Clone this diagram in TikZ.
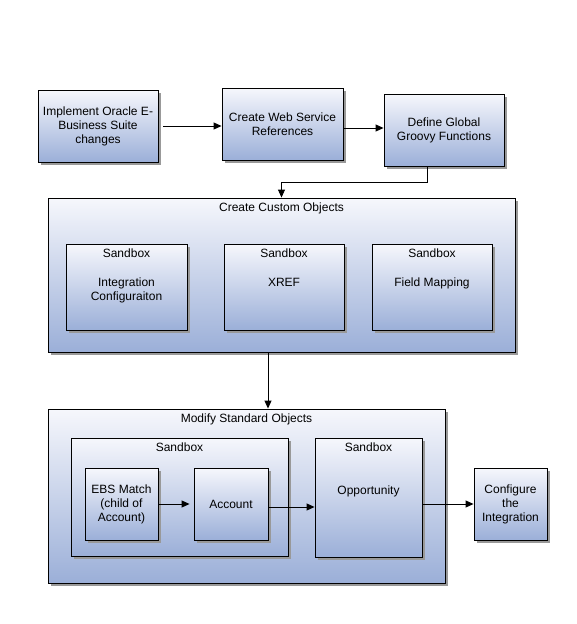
\documentclass[tikz,border=0pt]{standalone}
\usepackage{fontspec}
\setmainfont{Liberation Sans}
\usetikzlibrary{positioning}
\usetikzlibrary{shadows}
\usetikzlibrary{arrows.meta}

\definecolor{boxtop}{RGB}{246,247,252}
\definecolor{boxbot}{RGB}{155,175,216}

\tikzset{
  box/.style={draw=black, line width=0.9pt, top color=boxtop, bottom color=boxbot,
    align=center, inner sep=2pt,
    drop shadow={shadow xshift=2.5pt, shadow yshift=-2.5pt, fill=black!40, opacity=1}},
  title/.style={anchor=north, yshift=-2pt},
  content/.style={anchor=north, align=center},
  arr/.style={line width=0.9pt, -{Triangle[length=8pt,width=7pt]}},
}

\begin{document}
\begin{tikzpicture}[x=1pt, y=-1pt, font=\fontsize{12}{14}\selectfont]
  \useasboundingbox (0,0) rectangle (576,624);

  % top row
  \node[box, minimum width=120pt, minimum height=72pt] (impl) at (98,126) {Implement Oracle E-\\Business Suite\\changes};
  \node[box, minimum width=121pt, minimum height=72pt] (websvc) at (282.5,124) {Create Web Service\\References};
  \node[box, minimum width=120pt, minimum height=72pt] (groovy) at (444,130) {Define Global\\Groovy Functions};

  % custom objects
  \node[box, minimum width=467pt, minimum height=154pt, label={[title]north:Create Custom Objects}] (custom) at (281.5,275) {};
  \node[box, minimum width=121pt, minimum height=86pt, label={[title]north:Sandbox}] (cfgbox) at (126.5,287) {};
  \node[box, minimum width=120pt, minimum height=86pt, label={[title]north:Sandbox}] (xrefbox) at (284,287) {};
  \node[box, minimum width=120pt, minimum height=86pt, label={[title]north:Sandbox}] (mapbox) at (432,287) {};
  \node[content, below=31pt of cfgbox.north, anchor=north] (cfgtext) {Integration\\Configuraiton};
  \node[content, below=31pt of xrefbox.north, anchor=north] (xreftext) {XREF};
  \node[content, below=31pt of mapbox.north, anchor=north] (maptext) {Field Mapping};

  % standard objects
  \node[box, minimum width=397pt, minimum height=174pt, label={[title]north:Modify Standard Objects}] (modify) at (246.5,496) {};
  \node[box, minimum width=217pt, minimum height=118pt, label={[title]north:Sandbox}] (acctbox) at (179.5,497) {};
  \node[box, minimum width=107pt, minimum height=119pt, label={[title]north:Sandbox}] (oppbox) at (368.5,497.5) {};
  \node[content, below=45pt of oppbox.north, anchor=north] (opptext) {Opportunity};
  \node[box, minimum width=73pt, minimum height=72pt] (ebs) at (121.5,504) {EBS Match\\(child of\\Account)};
  \node[box, minimum width=74pt, minimum height=72pt] (account) at (231,504) {Account};
  \node[box, minimum width=73pt, minimum height=72pt] (config) at (510.5,504) {Configure\\the\\Integration};

  \coordinate (bend) at (427,182);
  \coordinate (drop) at (268,352);

  % arrows
  \draw[arr] ([xshift=5pt]impl.east) -- (impl.east -| websvc.west);
  \draw[arr] ([yshift=-4pt]websvc.east) -- ([yshift=-4pt]websvc.east -| groovy.west);
  \draw[arr] (groovy.south -| bend) -- (bend) -| (custom.north);
  \draw[arr] (custom.south -| drop) -- (modify.north -| drop);
  \draw[arr] ([xshift=1pt]ebs.east) -- ([xshift=-4pt]account.west);
  \draw[arr] ([yshift=-3pt]account.east) -- ([yshift=-3pt]account.east -| oppbox.west);
  \draw[arr] (config.west -| oppbox.east) -- (config.west);
\end{tikzpicture}
\end{document}
